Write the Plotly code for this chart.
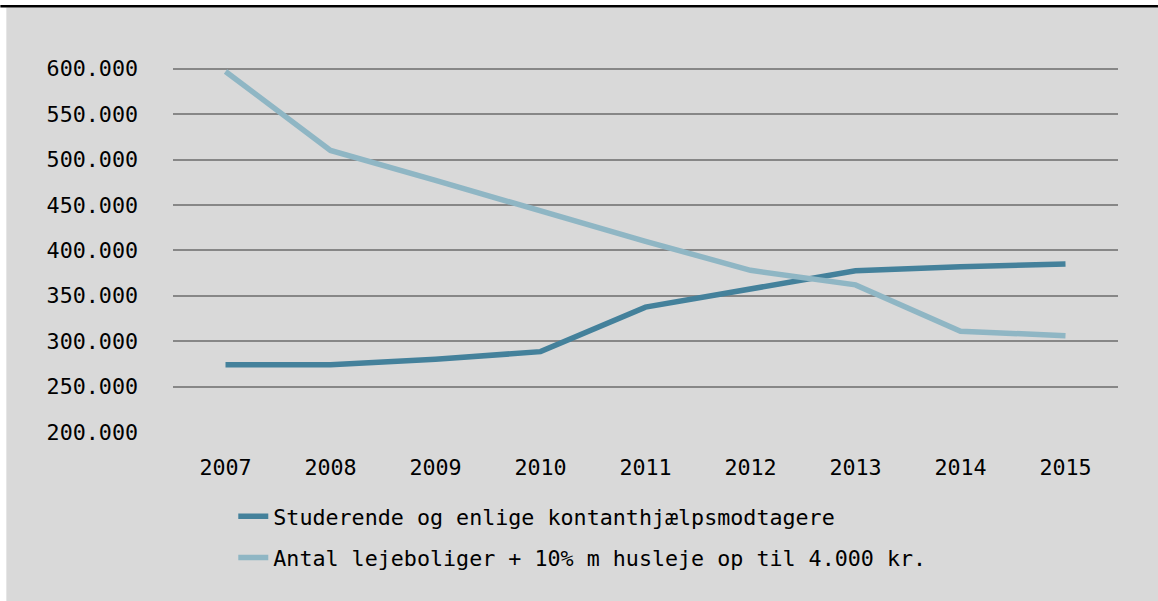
import plotly.graph_objects as go

years = ["2007", "2008", "2009", "2010", "2011", "2012", "2013", "2014", "2015"]
studerende = [274000, 274000, 280000, 288500, 337500, 358000, 377500, 382000, 385000]
lejeboliger = [597000, 510000, 477000, 443000, 410000, 378000, 362000, 311000, 306000]
name_studerende = "Studerende og enlige kontanthjælpsmodtagere"
name_lejeboliger = "Antal lejeboliger + 10% m husleje op til 4.000 kr."
y_ticks = [200000, 250000, 300000, 350000, 400000, 450000, 500000, 550000, 600000]

W, H = 1158, 601
px_per_val = 45.5 / 50000
y_top = 603000  # a little headroom so the 600.000 gridline is drawn
L, R, B = 172.7, 40, 168.8
T = 68.3 - (y_top - 600000) * px_per_val
pw = W - L - R
ph = H - T - B

def px_x(p):
    return (p - L) / pw

def px_y(p):
    return (H - B - p) / ph

FONT = "DejaVu Sans Mono"
FS = 21.7

fig = go.Figure()
fig.add_trace(go.Scatter(x=years, y=studerende, mode="lines", name=name_studerende,
                         legendgroup="a",
                         line=dict(color="#44819b", width=5.5)))
fig.add_trace(go.Scatter(x=years, y=lejeboliger, mode="lines", name=name_lejeboliger,
                         legendgroup="b",
                         line=dict(color="#8fb6c4", width=5.5)))

fig.add_shape(type="rect", xref="paper", yref="paper", layer="below",
              x0=px_x(6), x1=px_x(W + 5), y0=px_y(H + 5), y1=px_y(7),
              fillcolor="#d9d9d9", line=dict(width=0))
fig.add_shape(type="line", xref="paper", yref="paper",
              x0=px_x(0), x1=px_x(W), y0=px_y(5.8), y1=px_y(5.8),
              line=dict(color="#000000", width=2.5))

fig.update_layout(
    width=W, height=H,
    margin=dict(l=L, r=R, t=T, b=B, autoexpand=False),
    paper_bgcolor="#ffffff",
    plot_bgcolor="rgba(0,0,0,0)",
    separators=",.",
    font=dict(family=FONT, size=FS, color="#000000"),
    showlegend=True,
    legend=dict(x=px_x(233), y=px_y(496), xanchor="left", yanchor="top",
                bgcolor="rgba(0,0,0,0)", traceorder="grouped", tracegroupgap=10,
                font=dict(family=FONT, size=FS, color="#000000")),
    xaxis=dict(type="category", range=[-0.5, len(years) - 0.5],
               showgrid=False, showline=False, zeroline=False,
               ticks="", ticklabelstandoff=20, tickfont=dict(size=FS)),
    yaxis=dict(range=[200000, y_top], tickvals=y_ticks, tickformat=",d",
               showgrid=True, gridcolor="#878787", gridwidth=1.6,
               showline=False, zeroline=False, ticks="", ticklabelstandoff=34,
               tickfont=dict(size=FS)),
)

fig.write_html("out.html", config={"displayModeBar": False},
               post_script="document.body.style.margin='0';document.body.style.padding='0';")
